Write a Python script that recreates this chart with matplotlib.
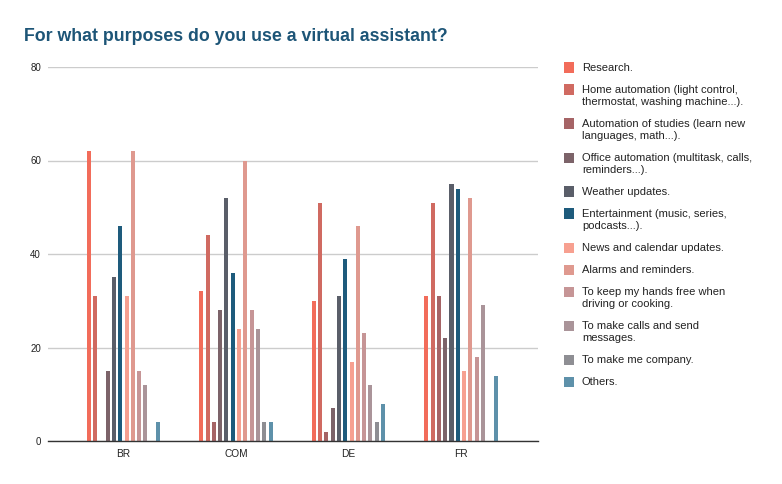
import matplotlib.pyplot as plt
import numpy as np
from matplotlib.patches import Rectangle

plt.rcParams['font.family'] = ['Liberation Sans', 'DejaVu Sans']

groups = ['BR', 'COM', 'DE', 'FR']

purposes = [
    'Research.',
    'Home automation (light control,\nthermostat, washing machine...).',
    'Automation of studies (learn new\nlanguages, math...).',
    'Office automation (multitask, calls,\nreminders...).',
    'Weather updates.',
    'Entertainment (music, series,\npodcasts...).',
    'News and calendar updates.',
    'Alarms and reminders.',
    'To keep my hands free when\ndriving or cooking.',
    'To make calls and send\nmessages.',
    'To make me company.',
    'Others.',
]

colors = ['#f26c5a', '#d06a61', '#a66466', '#7c6369', '#5a5e69', '#1e5b7c',
          '#f7a090', '#df998f', '#c69596', '#aa9499', '#8e8e93', '#5e91aa']

# one list per country, in the order of the purposes above
br = [62, 31, 0, 15, 35, 46, 31, 62, 15, 12, 0, 4]
com = [32, 44, 4, 28, 52, 36, 24, 60, 28, 24, 4, 4]
de = [30, 51, 2, 7, 31, 39, 17, 46, 23, 12, 4, 8]
fr = [31, 51, 31, 22, 55, 54, 15, 52, 18, 29, 0, 14]

values = np.array([br, com, de, fr])

fig = plt.figure(figsize=(7.82, 4.84), dpi=100)
ax = fig.add_axes([48 / 782, 1 - 441 / 484, 490 / 782, 374 / 484])

x = np.arange(len(groups))
step = 0.056
bw = 0.036
n = len(purposes)
for i in range(n):
    off = (i - (n - 1) / 2) * step
    ax.bar(x + off, values[:, i], width=bw, color=colors[i], zorder=3)

ax.set_xlim(-0.67, 3.685)
ax.set_ylim(0, 80)
ax.set_yticks([0, 20, 40, 60, 80])
ax.set_xticks(x)
ax.set_xticklabels(groups)
ax.tick_params(axis='both', length=0, labelsize=7, colors='#222222')
ax.tick_params(axis='x', pad=6, labelsize=7.3)
ax.tick_params(axis='y', pad=5)
ax.grid(axis='y', color='#cccccc', linewidth=1, zorder=0)
for s in ['top', 'right', 'left']:
    ax.spines[s].set_visible(False)
ax.spines['bottom'].set_color('#333333')
ax.spines['bottom'].set_linewidth(1)
ax.spines['bottom'].set_zorder(4)

fig.text(24 / 782, 1 - 41 / 484, 'For what purposes do you use a virtual assistant?',
         fontsize=12.8, fontweight='bold', color='#1d5577', va='baseline')

# legend drawn by hand so the swatch sits next to the first line
W, H = 782, 484
y = 67.5
for lab, c in zip(purposes, colors):
    fig.patches.append(Rectangle((564 / W, 1 - (y + 5) / H), 10 / W, 10 / H,
                                 transform=fig.transFigure, facecolor=c,
                                 edgecolor='none'))
    fig.text(582 / W, 1 - (y - 4.5) / H, lab, fontsize=8, color='#222222',
             va='top', ha='left', linespacing=1.3)
    y += 22 + 12 * lab.count('\n')

fig.savefig('out.png', dpi=100)
